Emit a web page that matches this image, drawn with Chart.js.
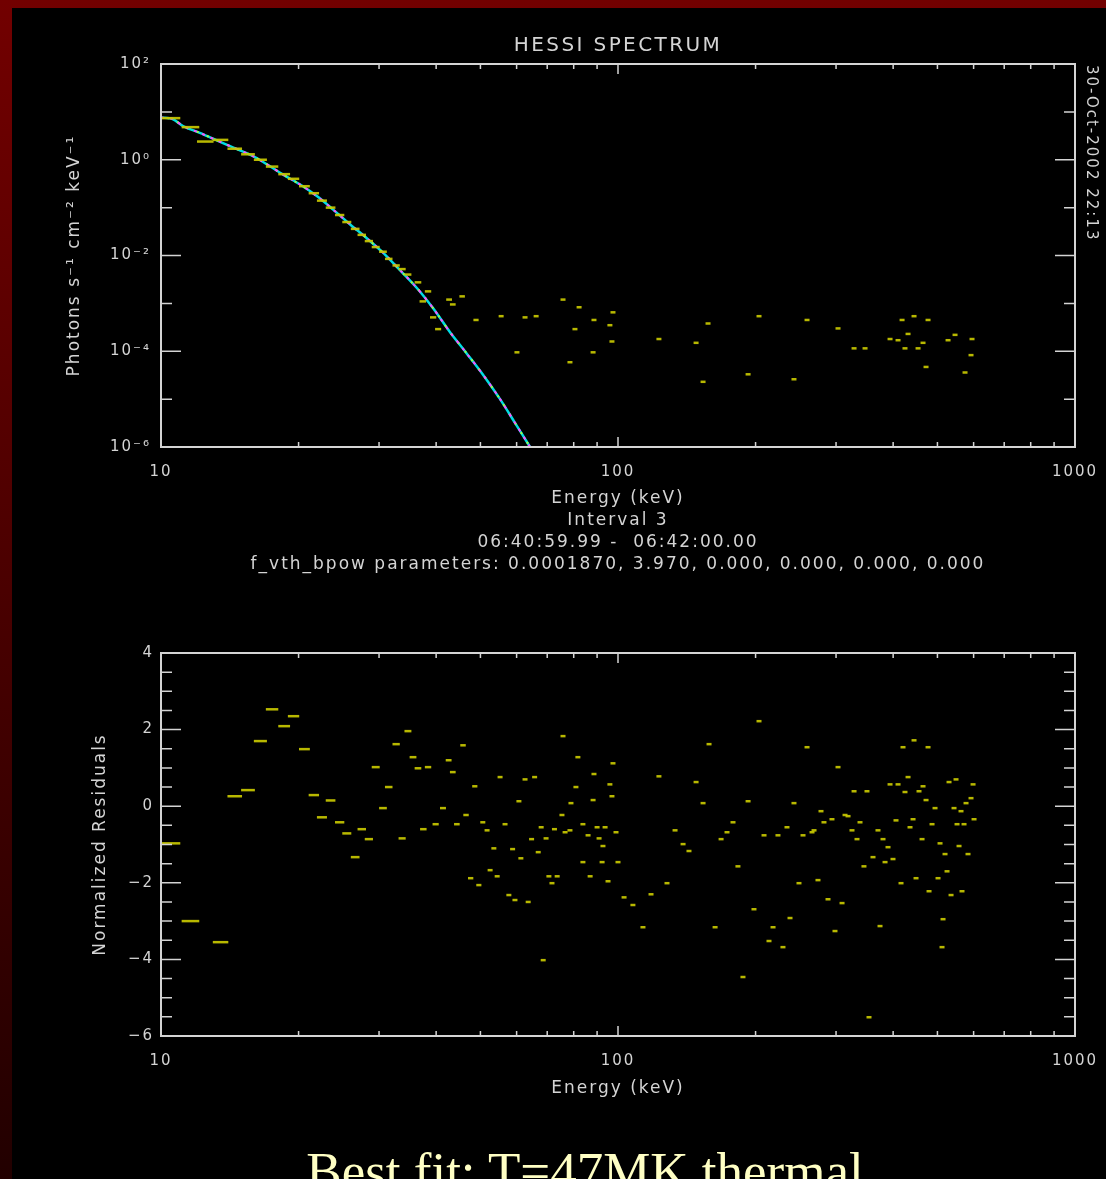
<!DOCTYPE html>
<html>
<head>
<meta charset="utf-8">
<script src="https://cdn.jsdelivr.net/npm/chart.js@4.4.1/dist/chart.umd.min.js"></script>
<style>
  html, body { margin: 0; padding: 0; }
  body {
    width: 1106px; height: 1179px; overflow: hidden; position: relative;
    background: linear-gradient(to bottom, #720000 0%, #4a0000 50%, #220000 100%);
    font-family: "DejaVu Sans", sans-serif;
  }
  #panel { position: absolute; left: 12px; top: 8px; right: 0; bottom: 0; background: #000; }
  canvas { position: absolute; left: 0; top: 0; }
  #titulo {
    position: absolute; left: 418px; width: 400px; top: 32px; text-align: center;
    color: #d4d4d4; font-size: 20px; line-height: 24px; letter-spacing: 2.4px;
  }
  #fecha {
    position: absolute; left: 1082px; top: 65px; writing-mode: vertical-rl;
    color: #d4d4d4; font-size: 15px; line-height: 20px; letter-spacing: 2px;
  }
  #ajuste {
    position: absolute; left: 285px; width: 600px; top: 1145px; text-align: center;
    font-family: "Liberation Serif", "Times New Roman", serif; font-size: 53px; line-height: 53px;
    color: #ffffc4; white-space: nowrap;
  }
</style>
</head>
<body>
<div id="panel"></div>
<canvas id="graficaEspectro" width="1106" height="1179"></canvas>
<canvas id="graficaResiduos" width="1106" height="1179"></canvas>
<div id="titulo">HESSI SPECTRUM</div>
<div id="fecha">30-Oct-2002 22:13</div>
<div id="ajuste">Best fit: T=47MK thermal</div>

<script>
// === DATOS ===
// modelo (curva) del espectro
const energiaModelo = [10.0, 10.6, 11.2, 12.2, 13.0, 14.2, 15.7, 16.7, 18.5, 20.2, 22.0, 23.8, 25.9, 28.2, 30.6, 33.3, 36.3, 39.4, 42.9, 46.7, 50.7, 55.2, 59.5, 64.2];
const flujoModelo = [7.6, 7.1, 5.0, 3.6, 2.75, 1.9, 1.26, 0.91, 0.49, 0.30, 0.17, 0.091, 0.045, 0.023, 0.0115, 0.0050, 0.0021, 7.9e-4, 2.5e-4, 8.9e-5, 3.2e-5, 1.0e-5, 3.2e-6, 1.0e-6];

// puntos medidos (barras amarillas) del espectro
const energiaDatos = [10.5, 11.6, 12.5, 13.5, 14.5, 15.5, 16.5, 17.5, 18.6, 19.5, 20.6, 21.6, 22.5, 23.5, 24.6, 25.5, 26.6, 27.5, 28.5, 29.5,
  30.6, 31.5, 32.7, 33.7, 34.7, 36.5, 38.4, 37.4, 42.7, 45.6, 43.5, 39.4, 40.4, 48.9, 55.5, 60.1, 62.6, 66.2, 75.8, 78.5,
  80.5, 82.2, 88.2, 88.6, 96.0, 97.0, 97.5, 122.9, 148.2, 153.5, 157.4, 192.6, 203.5, 242.7, 259.2, 303, 328.5, 347.2, 393.8, 410,
  418.4, 431.2, 424.6, 444.4, 453.5, 465, 472.1, 476.9, 527.5, 546.4, 574.6, 592.2, 595.2];
const flujoDatos = [7.4, 4.8, 2.4, 2.6, 1.7, 1.3, 1.0, 0.72, 0.5, 0.4, 0.28, 0.2, 0.14, 0.1, 0.07, 0.05, 0.036, 0.027, 0.02, 0.015,
  0.012, 0.0085, 0.0062, 0.0052, 0.0040, 0.00275, 0.00178, 0.0011, 0.0012, 0.0014, 0.00095, 5.1e-4, 2.9e-4, 4.5e-4, 5.4e-4, 9.5e-5, 5.1e-4, 5.4e-4, 0.0012, 5.9e-5,
  2.9e-4, 8.3e-4, 9.5e-5, 4.5e-4, 3.5e-4, 1.6e-4, 6.5e-4, 1.8e-4, 1.5e-4, 2.3e-5, 3.8e-4, 3.3e-5, 5.4e-4, 2.6e-5, 4.5e-4, 3.0e-4, 1.15e-4, 1.15e-4, 1.8e-4, 1.7e-4,
  4.5e-4, 2.3e-4, 1.15e-4, 5.4e-4, 1.15e-4, 1.5e-4, 4.7e-5, 4.5e-4, 1.7e-4, 2.2e-4, 3.6e-5, 8.3e-5, 1.8e-4];

// residuos normalizados
const energiaResiduos = [10.5, 11.6, 13.5, 14.5, 15.5, 16.5, 17.5, 18.6, 19.5, 20.6, 21.6, 22.5, 23.5, 24.6, 25.5, 26.6, 27.5, 28.5, 29.5, 30.6,
  31.5, 32.7, 33.7, 34.7, 35.6, 36.5, 37.5, 38.4, 39.9, 41.4, 42.6, 43.5, 44.4, 45.8, 46.5, 47.6, 48.6, 49.6, 50.6, 51.7,
  52.5, 53.5, 54.4, 55.2, 56.6, 57.7, 58.8, 59.5, 60.7, 61.3, 62.6, 63.6, 64.7, 65.7, 66.9, 67.9, 68.6, 69.6, 70.6, 71.7,
  72.6, 73.6, 75.8, 75.4, 81.7, 80.9, 78.9, 78.5, 76.6, 83.8, 83.8, 86.0, 86.9, 88.2, 88.6, 90.0, 90.9, 92.3, 92.7, 93.7,
  95.1, 96.0, 97.0, 97.5, 99.0, 100, 103.1, 107.8, 113.4, 118.1, 122.9, 128.0, 133.3, 138.8, 143.0, 148.2, 153.5, 158.2, 163.1, 168.1,
  173.2, 178.5, 183.0, 187.7, 192.6, 198.4, 203.5, 208.7, 214.0, 218.4, 223.9, 229.6, 234.3, 237.9, 242.7, 248.9, 254.0, 259.2, 265.8, 268.5,
  273.9, 278.1, 282.3, 288.1, 293.9, 298.4, 303, 309.2, 313.9, 318.7, 325.1, 328.5, 333.4, 338.5, 345.3, 350.6, 354.2, 361.4, 370.6, 374.4,
  380.1, 384.0, 389.8, 393.8, 399.7, 405.8, 410, 416.2, 420.4, 424.6, 431.2, 435.5, 442.2, 444.4, 448.9, 455.7, 462.7, 465, 472.1, 476.9,
  479.3, 486.6, 494.0, 501.5, 506.6, 511.7, 514.3, 519.5, 524.8, 530.1, 535.5, 543.6, 549.1, 551.9, 557.5, 563.1, 565.9, 571.7, 577.5, 583.3,
  592.2, 598.3, 601.3];
const valorResiduos = [-0.97, -3.0, -3.55, 0.26, 0.42, 1.7, 2.53, 2.09, 2.35, 1.49, 0.29, -0.29, 0.15, -0.42, -0.71, -1.33, -0.6, -0.86, 1.02, -0.05,
  0.5, 1.62, -0.84, 1.96, 1.28, 0.99, -0.6, 1.02, -0.47, -0.05, 1.2, 0.89, -0.47, 1.59, -0.23, -1.88, 0.52, -2.06, -0.42, -0.63,
  -1.67, -1.1, -1.83, 0.76, -0.47, -2.32, -1.12, -2.45, 0.13, -1.36, 0.7, -2.5, -0.86, 0.76, -1.2, -0.55, -4.02, -0.84, -1.83, -2.01,
  -0.6, -1.83, 1.83, -0.23, 1.28, 0.5, 0.08, -0.63, -0.68, -0.47, -1.46, -0.76, -1.83, 0.16, 0.84, -0.55, -0.84, -1.46, -1.04, -0.55,
  -1.96, 0.57, 0.26, 1.12, -0.68, -1.46, -2.38, -2.58, -3.16, -2.3, 0.78, -2.01, -0.63, -0.99, -1.17, 0.63, 0.08, 1.62, -3.16, -0.86,
  -0.68, -0.42, -1.57, -4.46, 0.13, -2.69, 2.22, -0.76, -3.52, -3.16, -0.76, -3.68, -0.55, -2.92, 0.08, -2.01, -0.76, 1.54, -0.68, -0.63,
  -1.93, -0.13, -0.42, -2.43, -0.34, -3.26, 1.02, -2.53, -0.23, -0.26, -0.63, 0.39, -0.86, -0.42, -1.57, 0.39, -5.51, -1.33, -0.63, -3.13,
  -0.86, -1.46, -1.07, 0.57, -1.38, -0.37, 0.57, -2.01, 1.54, 0.37, 0.76, -0.55, -0.34, 1.72, -1.88, 0.39, -0.86, 0.52, 0.16, 1.54,
  -2.22, -0.47, -0.05, -1.88, -0.97, -3.68, -2.95, -1.25, -1.7, 0.63, -2.32, -0.05, 0.7, -0.47, -1.04, -0.13, -2.22, -0.47, 0.08, -1.25,
  0.21, 0.57, -0.34];

// ejes
const ticksEnergia = [10, 100, 1000];
const etiquetasEnergia = ["10", "100", "1000"];
const menoresEnergia = [20, 30, 40, 50, 60, 70, 80, 90, 200, 300, 400, 500, 600, 700, 800, 900];
const ticksFlujo = [1e-6, 1e-4, 1e-2, 1, 100];
const etiquetasFlujo = ["10\u207B\u2076", "10\u207B\u2074", "10\u207B\u00B2", "10\u2070", "10\u00B2"];
const menoresFlujo = [1e-5, 1e-3, 1e-1, 10];
const ticksResiduo = [-6, -4, -2, 0, 2, 4];
const etiquetasResiduo = ["\u22126", "\u22124", "\u22122", "0", "2", "4"];
const menoresResiduo = [-5.5, -5, -4.5, -3.5, -3, -2.5, -1.5, -1, -0.5, 0.5, 1, 1.5, 2.5, 3, 3.5];

const tituloEspectro = ["Energy (keV)", "Interval 3", "06:40:59.99 -  06:42:00.00",
  "f_vth_bpow parameters: 0.0001870, 3.970, 0.000, 0.000, 0.000, 0.000"];

// === ESTILO ===
const GRIS = "#d4d4d4";
const AMARILLO = "rgba(200,200,0,0.92)";
const fuenteTicks = { family: "DejaVu Sans", size: 15, lineHeight: 1.36 };
const fuenteTitulo = { family: "DejaVu Sans", size: 17, lineHeight: 1.28 };

// marco y marcas tipo IDL (hacia adentro, en los cuatro lados)
const marcoIDL = {
  id: "marcoIDL",
  beforeDraw(chart) {
    chart.ctx.letterSpacing = "2px";
  },
  afterDatasetsDraw(chart, args, opts) {
    const { ctx, chartArea: a, scales: { x, y } } = chart;
    ctx.save();
    ctx.strokeStyle = GRIS;
    ctx.lineWidth = 1.5;
    ctx.beginPath();
    const marcaX = (v, len) => {
      const px = x.getPixelForValue(v);
      ctx.moveTo(px, a.bottom); ctx.lineTo(px, a.bottom - len);
      ctx.moveTo(px, a.top); ctx.lineTo(px, a.top + len);
    };
    const marcaY = (v, len) => {
      const py = y.getPixelForValue(v);
      ctx.moveTo(a.left, py); ctx.lineTo(a.left + len, py);
      ctx.moveTo(a.right, py); ctx.lineTo(a.right - len, py);
    };
    opts.xMayor.forEach(v => marcaX(v, 10));
    opts.xMenor.forEach(v => marcaX(v, 5));
    opts.yMayor.forEach(v => marcaY(v, 20));
    opts.yMenor.forEach(v => marcaY(v, 11));
    ctx.stroke();
    ctx.lineWidth = 2;
    ctx.strokeRect(a.left, a.top, a.right - a.left, a.bottom - a.top);
    ctx.restore();
  }
};

// largo de las barras de energía segun el bin
const largoBarra = (c) => {
  const e = c.raw ? c.raw.x : 100;
  return Math.max(2.5, 10 * Math.pow(10 / e, 0.85));
};

function ejeX(altura, tituloTexto) {
  return {
    type: "logarithmic", position: "bottom", min: 10, max: 1000,
    grid: { display: false, drawTicks: false }, border: { display: false },
    ticks: {
      color: GRIS, font: fuenteTicks, padding: 15, autoSkip: false, maxRotation: 0,
      callback: v => etiquetasEnergia[ticksEnergia.indexOf(v)] ?? ""
    },
    afterBuildTicks: s => { s.ticks = ticksEnergia.map(v => ({ value: v })); },
    afterFit: s => { s.height = altura; s.paddingLeft = 0; s.paddingRight = 0; },
    title: { display: true, text: tituloTexto, color: GRIS, font: fuenteTitulo, padding: { top: 4, bottom: 4 } }
  };
}

// === GRAFICA 1: ESPECTRO ===
new Chart(document.getElementById("graficaEspectro"), {
  type: "scatter",
  data: {
    datasets: [
      {
        label: "datos",
        data: energiaDatos.map((e, i) => ({ x: e, y: flujoDatos[i] })),
        pointStyle: "line", pointRadius: largoBarra, pointBorderWidth: 2.5,
        borderColor: AMARILLO, backgroundColor: AMARILLO, showLine: false, order: 1
      },
      {
        label: "modelo-magenta",
        data: energiaModelo.map((e, i) => ({ x: e, y: flujoModelo[i] })),
        showLine: true, pointRadius: 0, borderColor: "#ff50ff", borderWidth: 2,
        borderDash: [3, 6], tension: 0.3, order: 2
      },
      {
        label: "modelo-verde",
        data: energiaModelo.map((e, i) => ({ x: e, y: flujoModelo[i] })),
        showLine: true, pointRadius: 0, borderColor: "#a0ff40", borderWidth: 2,
        borderDash: [2, 9], borderDashOffset: 5, tension: 0.3, order: 3
      },
      {
        label: "modelo",
        data: energiaModelo.map((e, i) => ({ x: e, y: flujoModelo[i] })),
        showLine: true, pointRadius: 0, borderColor: "#00dce4", borderWidth: 2.5,
        tension: 0.3, order: 4
      }
    ]
  },
  options: {
    responsive: false, animation: false,
    layout: { padding: { left: 60, right: 31, top: 64, bottom: 600 } },
    plugins: {
      legend: { display: false }, tooltip: { enabled: false },
      marcoIDL: { xMayor: ticksEnergia, xMenor: menoresEnergia, yMayor: ticksFlujo, yMenor: menoresFlujo }
    },
    scales: {
      x: ejeX(132, tituloEspectro),
      y: {
        type: "logarithmic", min: 1e-6, max: 100,
        grid: { display: false, drawTicks: false }, border: { display: false },
        ticks: {
          color: GRIS, font: fuenteTicks, padding: 10, autoSkip: false,
          callback: v => etiquetasFlujo[ticksFlujo.indexOf(v)] ?? ""
        },
        afterBuildTicks: s => { s.ticks = ticksFlujo.map(v => ({ value: v })); },
        afterFit: s => { s.width = 101; s.paddingTop = 0; s.paddingBottom = 0; },
        title: { display: true, text: "Photons s\u207B\u00B9 cm\u207B\u00B2 keV\u207B\u00B9", color: GRIS, font: fuenteTitulo, padding: { top: 4, bottom: 4 } }
      }
    }
  },
  plugins: [marcoIDL]
});

// === GRAFICA 2: RESIDUOS ===
new Chart(document.getElementById("graficaResiduos"), {
  type: "scatter",
  data: {
    datasets: [{
      label: "residuos",
      data: energiaResiduos.map((e, i) => ({ x: e, y: valorResiduos[i] })),
      pointStyle: "line", pointRadius: largoBarra, pointBorderWidth: 2.5,
      borderColor: AMARILLO, backgroundColor: AMARILLO, showLine: false
    }]
  },
  options: {
    responsive: false, animation: false,
    layout: { padding: { left: 86, right: 31, top: 653, bottom: 76 } },
    plugins: {
      legend: { display: false }, tooltip: { enabled: false },
      marcoIDL: { xMayor: ticksEnergia, xMenor: menoresEnergia, yMayor: ticksResiduo, yMenor: menoresResiduo }
    },
    scales: {
      x: ejeX(67, "Energy (keV)"),
      y: {
        type: "linear", min: -6, max: 4,
        grid: { display: false, drawTicks: false }, border: { display: false },
        ticks: {
          color: GRIS, font: fuenteTicks, padding: 7, autoSkip: false,
          callback: v => etiquetasResiduo[ticksResiduo.indexOf(v)] ?? ""
        },
        afterBuildTicks: s => { s.ticks = ticksResiduo.map(v => ({ value: v })); },
        afterFit: s => { s.width = 75; s.paddingTop = 0; s.paddingBottom = 0; },
        title: { display: true, text: "Normalized Residuals", color: GRIS, font: fuenteTitulo, padding: { top: 4, bottom: 4 } }
      }
    }
  },
  plugins: [marcoIDL]
});
</script>
</body>
</html>
